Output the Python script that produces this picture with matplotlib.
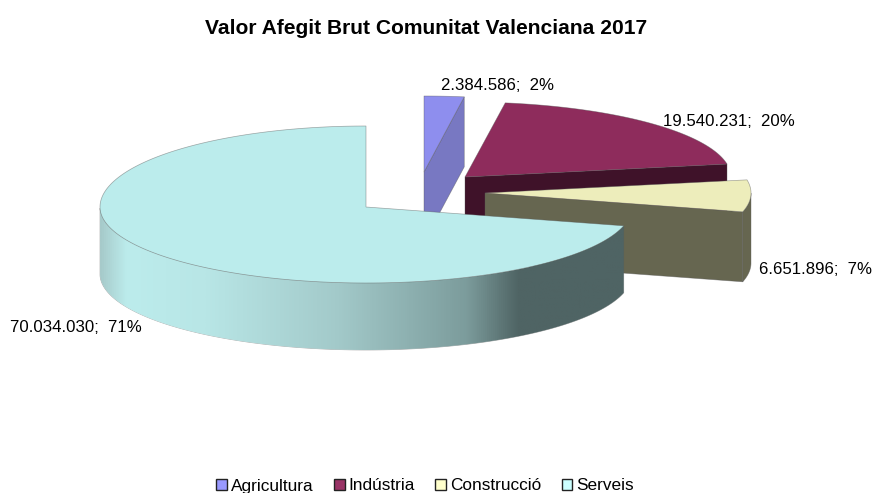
import numpy as np
import matplotlib
matplotlib.use("Agg")
import matplotlib.pyplot as plt
from matplotlib.patches import Polygon, Patch
from matplotlib.colors import LinearSegmentedColormap

categories = ["Agricultura", "Indústria", "Construcció", "Serveis"]
values = [2384586, 19540231, 6651896, 70034030]
title = "Valor Afegit Brut Comunitat Valenciana 2017"

# style / layout (pixels)
top_colors = ["#8E8EEE", "#8E2C5C", "#EDEDBB", "#BBECEC"]
cut_colors = ["#7878C2", "#3F1229", "#666650", "#4F6464"]
legend_colors = ["#9999FF", "#993366", "#FFFFCC", "#CCFFFF"]
apex_x = [424, 465, 485, 366]
apex_y = [172, 177, 193, 207]
back_ry = [76, 75, 76, 81]
front_ry = [76, 76, 76, 76]
RX = 266
depth = [70, 70, 70, 67]
label_pos = [(441, 85), (663, 121), (759, 269), (10, 328)]

plt.rcParams["font.family"] = ["Liberation Sans", "DejaVu Sans"]
fig = plt.figure(figsize=(8.73, 4.93), dpi=100)
ax = fig.add_axes([0, 0, 1, 1])
ax.set_xlim(0, 873)
ax.set_ylim(493, 0)
ax.axis("off")

total = sum(values)
edges = np.concatenate([[0], np.cumsum(values)]) / total * 2 * np.pi


def rim(i, a):
    a = np.asarray(a)
    c = np.cos(a)
    ry = np.where(c > 0, back_ry[i], front_ry[i])
    return apex_x[i] + RX * np.sin(a), apex_y[i] - ry * c


def add(pts, color, z, edge="#55555580", lw=0.5):
    p = Polygon(pts, closed=True, facecolor=color, edgecolor=edge, linewidth=lw, zorder=z)
    ax.add_patch(p)
    return p


for i in range(4):
    a0, a1 = edges[i], edges[i + 1]
    arc = np.linspace(a0, a1, 240)
    x, y = rim(i, arc)
    z = 10 + i * 10
    ax_, ay_ = apex_x[i], apex_y[i]
    H = depth[i]

    # vertical cut face on the clockwise end of the first three slices
    if i < 3:
        ex, ey = rim(i, a1)
        add([(ax_, ay_), (ex, ey), (ex, ey + H), (ax_, ay_ + H)], cut_colors[i], z)

    # outer wall on the front half of the rim
    front = arc[(arc >= np.pi / 2) & (arc <= 3 * np.pi / 2)]
    if front.size > 1:
        fx, fy = rim(i, front)
        wall = np.r_[np.c_[fx, fy], np.c_[fx[::-1], fy[::-1] + H]]
        if i == 3:
            cmap = LinearSegmentedColormap.from_list(
                "wall",
                [(0.0, "#A6CACA"), (0.05, "#BCECEC"), (0.2, "#B8E6E6"),
                 (0.45, "#A3CACA"), (0.7, "#7C9C9C"), (0.8, "#4F6464"), (1.0, "#4F6464")],
            )
            p = add(wall, "none", z + 1, edge="#55555580")
            im = ax.imshow(
                np.linspace(0, 1, 512)[None, :], cmap=cmap, aspect="auto",
                extent=(fx.min(), fx.max(), fy.max() + H, fy.min()), zorder=z + 1,
            )
            im.set_clip_path(p)
            ax.set_xlim(0, 873)
            ax.set_ylim(493, 0)
        else:
            add(wall, cut_colors[i], z + 1)

    # top surface
    add(np.r_[[[ax_, ay_]], np.c_[x, y]], top_colors[i], z + 2)

for i, (cat, v) in enumerate(zip(categories, values)):
    share = round(v / total * 100)
    val = f"{v:,}".replace(",", ".")
    ax.text(label_pos[i][0], label_pos[i][1], f"{val};  {share}%", fontsize=12.05,
            color="black", ha="left", va="center", zorder=100)

ax.text(426.5, 28, title, fontsize=15.15, fontweight="bold", ha="center", va="center", zorder=100)

handles = [Patch(facecolor=c, edgecolor="#222222", linewidth=1.0) for c in legend_colors]
leg = ax.legend(
    handles, categories, loc="center", bbox_to_anchor=(425, 486),
    bbox_transform=ax.transData, ncol=4, frameon=False, fontsize=12.4,
    handlelength=0.62, handleheight=0.62, handletextpad=0.22, columnspacing=1.2,
    borderpad=0, borderaxespad=0,
)
leg.set_zorder(100)

fig.savefig("out.png", dpi=100)
